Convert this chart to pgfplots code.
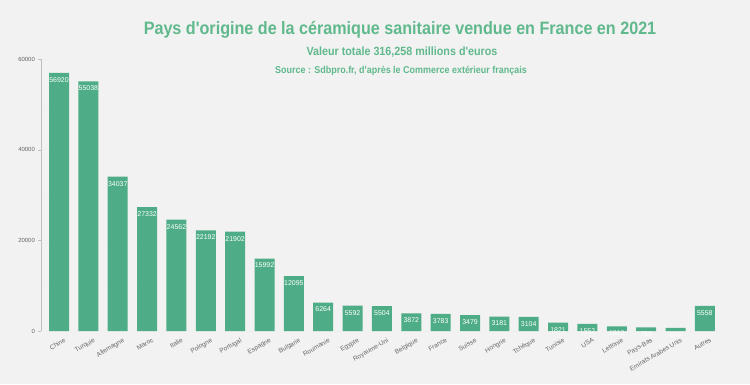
\documentclass[border=0pt]{standalone}
\usepackage{pgfplots}
\pgfplotsset{compat=1.18}
\usepackage{fontspec}
\setmainfont{Liberation Sans}
\newfontfamily\titlefont[FakeStretch=0.9]{Liberation Sans}
\definecolor{bargreen}{RGB}{78,173,134}
\definecolor{titlegreen}{RGB}{96,185,140}
\definecolor{bgc}{RGB}{242,242,242}
\begin{document}
\begin{tikzpicture}[x=1bp,y=1bp]
\fill[bgc] (0,0) rectangle (750,384);
\node[font=\titlefont\bfseries\fontsize{18}{20}\selectfont, text=titlegreen] at (400,354) {Pays d'origine de la céramique sanitaire vendue en France en 2021};
\node[font=\titlefont\bfseries\fontsize{12}{14}\selectfont, text=titlegreen] at (402,332) {Valeur totale 316,258 millions d'euros};
\node[font=\titlefont\bfseries\fontsize{10}{12}\selectfont, text=titlegreen] at (401,313) {Source : Sdbpro.fr, d'après le Commerce extérieur français};
\begin{axis}[
  at={(41.4bp,53bp)}, anchor=south west,
  scale only axis, width=684bp, height=272bp,
  xmin=-0.6, xmax=22.7, ymin=0, ymax=60000,
  axis x line=none, axis y line=left,
  axis line style={draw=gray!50, -},
  y axis line style={-},
  ybar, bar width=20bp,
  xtick=data,
  ytick={0,20000,40000,60000},
  minor ytick={10000,30000,50000},
  ymajorgrids, yminorgrids,
  major grid style={draw=gray!12},
  minor grid style={draw=gray!12},
  tick style={draw=gray!50},
  major tick length=3bp,
  minor tick length=0pt,
  tick align=outside,
  scaled y ticks=false,
  yticklabel style={font=\fontsize{6}{7}\selectfont, text=gray!80!black, /pgf/number format/fixed, /pgf/number format/1000 sep={}},
  /pgf/number format/assume math mode=true,
  nodes near coords,
  nodes near coords style={font=\fontsize{7}{8}\selectfont, text=white, anchor=north, yshift=-1bp, /pgf/number format/fixed, /pgf/number format/1000 sep={}},
  clip=false,
]
\addplot[fill=bargreen, draw=none] coordinates {
(0,56920) (1,55038) (2,34037) (3,27332) (4,24562) (5,22192) (6,21902) (7,15992) (8,12095) (9,6264) (10,5592) (11,5504) (12,3872) (13,3783) (14,3479) (15,3181) (16,3104) (17,1821) (18,1552) (19,1010) (20,799) (21,669) (22,5558)};
\end{axis}
\foreach \n [count=\i from 0] in {Chine,Turquie,Allemagne,Maroc,Italie,Pologne,Portugal,Espagne,Bulgarie,Roumanie,Egypte,Royaume-Uni,Belgique,France,Suisse,Hongrie,Tchèque,Tunisie,USA,Lettonie,Pays-Bas,Emirats Arabes Unis,Autres}{
  \node[font=\fontsize{6.5}{7}\selectfont, text=gray!80!black, rotate=30, anchor=north east, inner sep=1bp] at ({59+29.36*\i+5},48) {\n};
}
\end{tikzpicture}
\end{document}
